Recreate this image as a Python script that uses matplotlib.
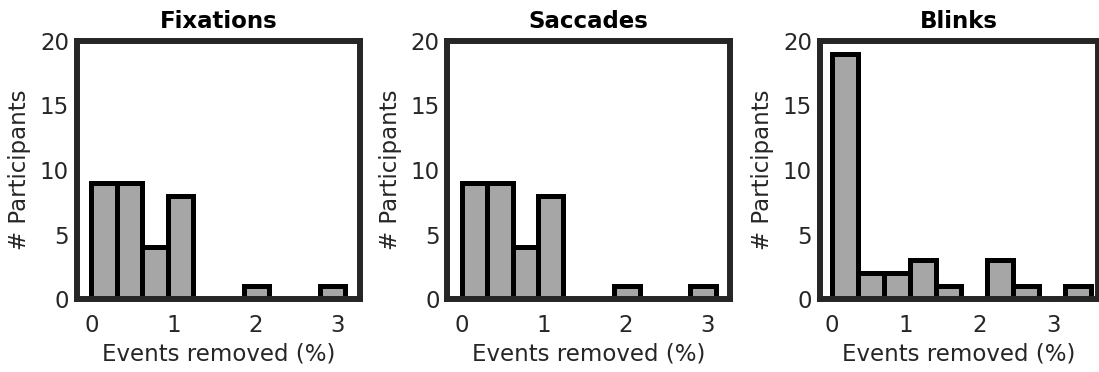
import matplotlib
matplotlib.use("Agg")
import matplotlib.pyplot as plt
import numpy as np

# histogram counts (32 participants per panel)
fix_edges = np.arange(11) * 0.31
fix_counts = [9, 9, 4, 8, 0, 0, 1, 0, 0, 1]

sac_edges = np.arange(11) * 0.31
sac_counts = [9, 9, 4, 8, 0, 0, 1, 0, 0, 1]

blink_edges = np.arange(11) * 0.35
blink_counts = [19, 2, 2, 3, 1, 0, 3, 1, 0, 1]

titles = ["Fixations", "Saccades", "Blinks"]
xlims = [(-0.18, 3.28), (-0.18, 3.28), (-0.17, 3.60)]
xticks = [0, 1, 2, 3]
yticks = [0, 5, 10, 15, 20]

plt.rcParams["font.family"] = ["DejaVu Sans"]
plt.rcParams["font.size"] = 16.5

W, H = 1099, 372
fig = plt.figure(figsize=(W / 100, H / 100), dpi=100)

# axes boxes in pixels: left, right, top, bottom
boxes = [(76.7, 360.0, 41.0, 299.0), (447.3, 730.3, 41.0, 299.0), (819.7, 1098.0, 41.0, 299.0)]

data = [(fix_edges, fix_counts), (sac_edges, sac_counts), (blink_edges, blink_counts)]
spine_col = "#262626"

for (l, r, t, b), (edges, counts), title, xl in zip(boxes, data, titles, xlims):
    ax = fig.add_axes([l / W, (H - b) / H, (r - l) / W, (b - t) / H])
    ax.bar(edges[:-1], counts, width=np.diff(edges), align="edge",
           color="#a6a6a6", edgecolor="black", linewidth=3.6)
    ax.set_xlim(*xl)
    ax.set_ylim(0, 20)
    ax.set_xticks(xticks)
    ax.set_yticks(yticks)
    ax.tick_params(length=0, colors=spine_col, labelsize=16.5)
    ax.tick_params(axis="x", pad=10.5)
    ax.tick_params(axis="y", pad=5.5)
    for s in ax.spines.values():
        s.set_linewidth(4.3)
        s.set_color(spine_col)
    ax.set_title(title, fontweight="bold", fontsize=16.5, pad=9)
    ax.set_xlabel("Events removed (%)", color=spine_col, labelpad=4)
    ax.set_ylabel("# Participants", color=spine_col, labelpad=6)

fig.savefig("out.png", dpi=100)
